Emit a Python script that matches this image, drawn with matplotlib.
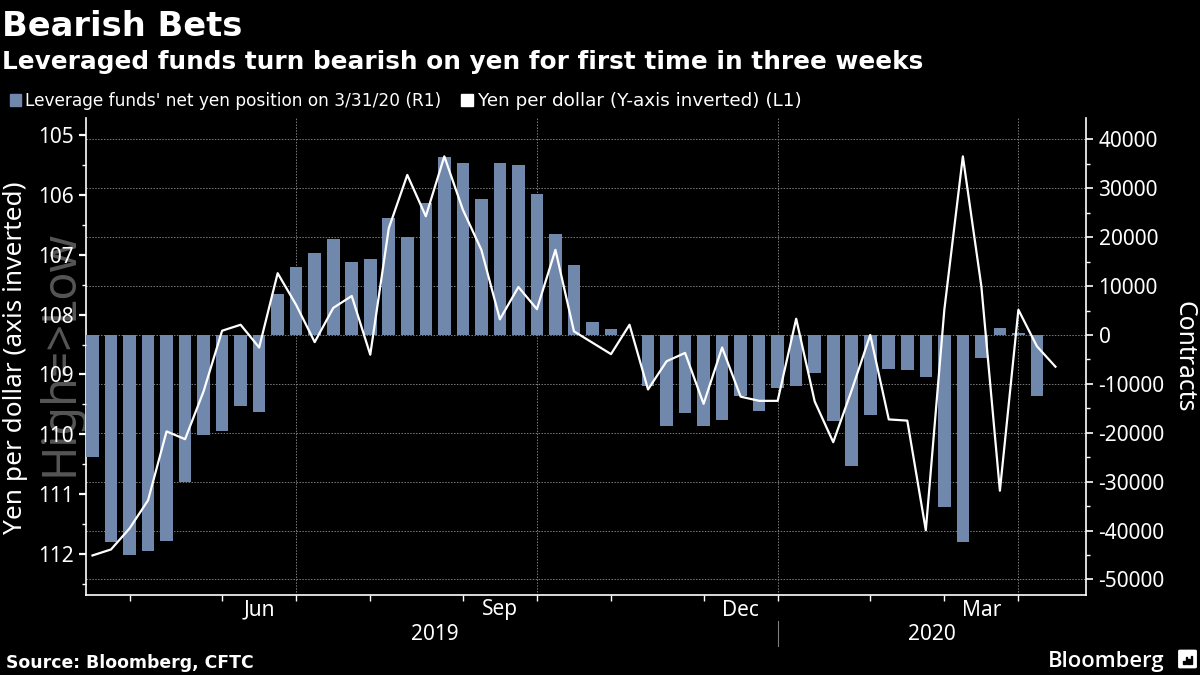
import matplotlib

matplotlib.use("Agg")
import matplotlib.pyplot as plt
from matplotlib.patches import FancyBboxPatch, Rectangle

# weekly positions, last point of the yen line has no bar
net_position = [
    -24900, -42260, -44990, -44170, -42060, -30060, -20380, -19630, -14450, -15680,
    8380, 13900, 16770, 19630, 14930, 15540, 23930, 20040, 26990, 36470,
    35170, 27810, 35170, 34760, 28830, 20650, 14310, 2660, 1230, 0,
    -10430, -18540, -15880, -18540, -17310, -12470, -15470, -10770, -10360, -7700,
    -17520, -26720, -16290, -6880, -7090, -8590, -35100, -42260, -4640, 1360,
    340, -12400,
]
yen_per_dollar = [
    112.02, 111.92, 111.57, 111.10, 109.95, 110.08, 109.28, 108.27, 108.17, 108.55,
    107.31, 107.84, 108.46, 107.89, 107.69, 108.67, 106.56, 105.67, 106.36, 105.36,
    106.25, 106.92, 108.08, 107.54, 107.91, 106.92, 108.28, 108.47, 108.66, 108.17,
    109.25, 108.78, 108.64, 109.49, 108.55, 109.37, 109.44, 109.44, 108.07, 109.45,
    110.13, 109.26, 108.34, 109.75, 109.77, 111.60, 107.92, 105.36, 107.53, 110.94,
    107.92, 108.53, 108.87,
]
month_ticks = [2, 7, 11, 15, 20, 24, 28, 33, 37, 42, 46, 50]
quarter_lines = [11, 24, 37, 50]
month_labels = ["Jun", "Sep", "Dec", "Mar"]
month_label_pos = [9, 22, 35, 48]
year_labels = ["2019", "2020"]
year_label_pos = [18.5, 45.3]
year_break = 37
yen_ticks = [105, 106, 107, 108, 109, 110, 111, 112]
yen_minor = [105.5, 106.5, 107.5, 108.5, 109.5, 110.5, 111.5, 112.5]
contract_ticks = [40000, 30000, 20000, 10000, 0, -10000, -20000, -30000, -40000, -50000]
contract_minor = [35000, 25000, 15000, 5000, -5000, -15000, -25000, -35000, -45000]
logo_bars = [3, 7, 5, 8]

BAR_COLOR = "#7188ad"
GRID_COLOR = "#7d7d7d"
TEXT_FONT = "Noto Sans"
W, H = 1200, 675


def fx(px):
    return px / W


def fy(py):
    return 1 - py / H


fig = plt.figure(figsize=(12, 6.75), dpi=100, facecolor="black")
ax = fig.add_axes([fx(86), fy(595), fx(1086) - fx(86), fy(118) - fy(595)], facecolor="black")
line_ax = ax.twinx()

ax.bar(range(len(net_position)), net_position, width=0.68, color=BAR_COLOR, zorder=3)
ax.set_xlim(-0.35, 53.65)
ax.set_ylim(-53170, 44380)

ax.yaxis.tick_right()
ax.set_yticks(contract_ticks)
ax.set_yticklabels([str(t) for t in contract_ticks], fontname=TEXT_FONT, fontsize=15, color="white", ha="left")
ax.set_yticks(contract_minor, minor=True)
ax.tick_params(axis="y", which="major", length=5, width=1.2, color="white", pad=4)
ax.tick_params(axis="y", which="minor", length=3, width=1, color="white")
ax.set_xticks(month_ticks)
ax.set_xticklabels([])
ax.tick_params(axis="x", length=4, width=1, color="white")

ax.grid(axis="y", color=GRID_COLOR, linestyle=(0, (1.5, 1.5)), linewidth=0.7, zorder=1)
for pos in quarter_lines:
    ax.axvline(pos, color=GRID_COLOR, linestyle=(0, (1.5, 1.5)), linewidth=0.7, zorder=1)

for side in ["left", "right", "bottom"]:
    ax.spines[side].set_color("white")
    ax.spines[side].set_linewidth(1.2)
ax.spines["top"].set_visible(False)

line_ax.plot(range(len(yen_per_dollar)), yen_per_dollar, color="white", linewidth=1.6, zorder=4)
line_ax.set_ylim(112.68, 104.72)
line_ax.yaxis.tick_left()
line_ax.set_yticks(yen_ticks)
line_ax.set_yticklabels([str(t) for t in yen_ticks], fontname=TEXT_FONT, fontsize=15, color="white")
line_ax.set_yticks(yen_minor, minor=True)
line_ax.tick_params(axis="y", which="major", length=5, width=1.6, color="white", pad=4)
line_ax.tick_params(axis="y", which="minor", length=3, width=1, color="white")
for spine in line_ax.spines.values():
    spine.set_visible(False)

trans = ax.get_xaxis_transform()
for label, pos in zip(month_labels, month_label_pos):
    fig.text(fx(92.5 + 18.52 * pos), fy(610), label, fontname=TEXT_FONT, fontsize=15, color="white", ha="center", va="center")
for label, pos in zip(year_labels, year_label_pos):
    fig.text(fx(92.5 + 18.52 * pos), fy(634), label, fontname=TEXT_FONT, fontsize=15, color="white", ha="center", va="center")
ax.plot([year_break, year_break], [-0.055, -0.107], transform=trans, color=GRID_COLOR, linewidth=0.8, clip_on=False)

# titles
fig.text(fx(2), fy(36), "Bearish Bets", fontname="DejaVu Sans", fontweight="bold", fontsize=24.2, color="white", va="baseline")
fig.text(fx(2), fy(69), "Leveraged funds turn bearish on yen for first time in three weeks", fontname="DejaVu Sans",
         fontweight="bold", fontsize=17.85, color="white", va="baseline")

# legend
fig.add_artist(Rectangle((fx(9.5), fy(106)), 11.5 / W, 11.5 / H, transform=fig.transFigure, color=BAR_COLOR))
fig.text(fx(25), fy(106), "Leverage funds' net yen position on 3/31/20 (R1)", fontname="DejaVu Sans", fontsize=12.25, color="white")
fig.add_artist(Rectangle((fx(461), fy(106)), 12 / W, 11.5 / H, transform=fig.transFigure, color="white"))
fig.text(fx(478), fy(106), "Yen per dollar (Y-axis inverted) (L1)", fontname="DejaVu Sans", fontsize=13.2, color="white")

# axis titles and watermark
fig.text(fx(16), fy(358), "Yen per dollar (axis inverted)", fontname=TEXT_FONT, fontsize=18.9, color="white",
         rotation=90, ha="center", va="center")
fig.text(fx(1184), fy(357), "Contracts", fontname=TEXT_FONT, fontsize=17.8, color="white",
         rotation=270, ha="center", va="center")
fig.text(fx(73), fy(353), "High=>Low", fontname=TEXT_FONT, fontsize=33.5, color="#565656",
         rotation=90, ha="center", va="baseline", rotation_mode="anchor", zorder=-1)

# footer
fig.text(fx(6), fy(668), "Source: Bloomberg, CFTC", fontname="DejaVu Sans", fontweight="bold", fontsize=12.4, color="white")
fig.text(fx(1048), fy(667), "Bloomberg", fontname="Open Sans", fontweight="semibold", fontsize=15.8, color="white")
fig.add_artist(FancyBboxPatch((fx(1180), fy(667)), 15 / W, 16 / H, transform=fig.transFigure, color="white",
                              boxstyle="round,pad=0.001"))
for i, bar_height in enumerate(logo_bars):
    fig.add_artist(Rectangle((fx(1183 + 2.6 * i), fy(664)), 1.6 / W, bar_height / H, transform=fig.transFigure, color="black"))

fig.savefig("out.png", dpi=100, facecolor="black")
